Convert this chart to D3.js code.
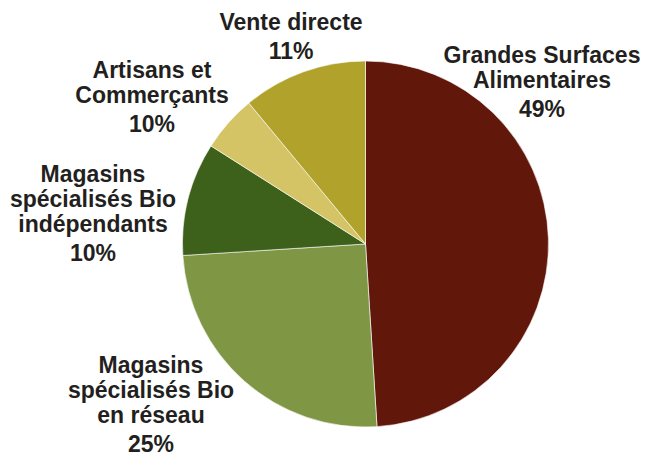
<!DOCTYPE html>
<html lang="fr">
<head>
    <meta charset="UTF-8">
    <title>Circuits de distribution</title>
    <script src="https://d3js.org/d3.v7.min.js"></script>
    <style>
        body { margin: 0; background: #fff; }
        text {
            font-family: "Liberation Sans", Arial, sans-serif;
            font-weight: bold;
            font-size: 23px;
            fill: #231f20;
            text-anchor: middle;
        }
    </style>
</head>
<body>
<svg id="chart"></svg>
<script>
    // data, clockwise from 12 o'clock
    const categories = [
        ["Grandes Surfaces", "Alimentaires"],
        ["Magasins", "spécialisés Bio", "en réseau"],
        ["Magasins", "spécialisés Bio", "indépendants"],
        ["Artisans et", "Commerçants"],
        ["Vente directe"]
    ];
    const values = [49, 25, 10, 5, 11];
    const pctLabels = ["49%", "25%", "10%", "10%", "11%"];
    const colors = ["#62170b", "#7f9645", "#3d601b", "#d4c466", "#b0a22b"];

    // label block anchors (x centre, first baseline)
    const labelPos = [[542, 63], [151, 373], [93, 182], [152, 78], [291, 30]];

    const width = 646, height = 456;
    const cx = 365.5, cy = 244, radius = 183;
    const lineH = 25, pctGap = 29;

    const svg = d3.select("#chart")
        .attr("width", width)
        .attr("height", height);

    const pie = d3.pie().sort(null).value(d => d);
    const arc = d3.arc().innerRadius(0).outerRadius(radius);

    const g = svg.append("g").attr("transform", `translate(${cx},${cy})`);

    g.selectAll("path")
        .data(pie(values))
        .enter().append("path")
        .attr("d", arc)
        .attr("fill", (d, i) => colors[i])
        .attr("stroke", "#fff")
        .attr("stroke-width", 0.6);

    // labels
    const labels = svg.selectAll("g.label")
        .data(categories)
        .enter().append("g")
        .attr("class", "label")
        .attr("transform", (d, i) => `translate(${labelPos[i][0]},${labelPos[i][1]})`);

    labels.each(function (lines, i) {
        const sel = d3.select(this);
        lines.forEach((t, j) => {
            sel.append("text").attr("x", 0).attr("y", j * lineH).text(t);
        });
        sel.append("text")
            .attr("x", 0)
            .attr("y", (lines.length - 1) * lineH + pctGap)
            .text(pctLabels[i]);
    });
</script>
</body>
</html>
